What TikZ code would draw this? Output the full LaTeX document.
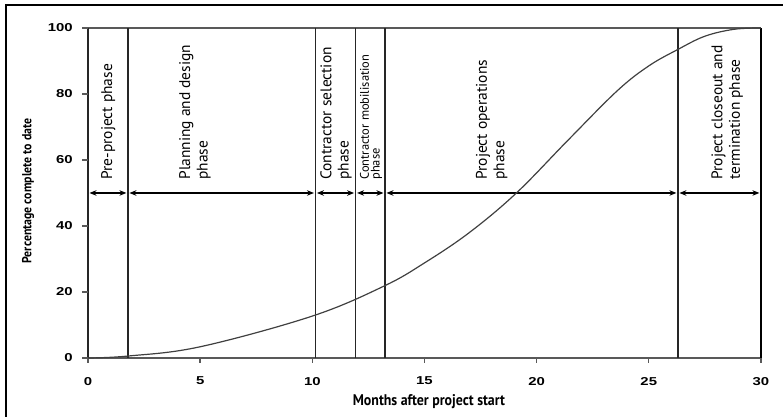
\documentclass[tikz,border=0pt]{standalone}
\usepackage{fontspec}
\setmainfont{PT Sans}
\newfontfamily\tickfont[FakeStretch=1.3]{Liberation Sans}
\newfontfamily\titlefont[FakeStretch=0.9]{PT Sans}
\usetikzlibrary{arrows.meta}

\begin{document}
\begin{tikzpicture}[x=22.43bp,y=3.3bp,>={Stealth[length=7bp,width=5.5bp]},
    phaselabel/.style={rotate=90,anchor=west,align=left,inner sep=0pt,font=\fontsize{15.5}{17.5}\selectfont},
    ticklabel/.style={font=\tickfont\bfseries\fontsize{11.5}{13}\selectfont,inner sep=0pt},
    boxline/.style={line width=1.3bp,black!65},
    phaseline/.style={line width=1.4bp,black!85}]
\useasboundingbox (-3.923,-17.88) rectangle (30.985,108.48);
% frame round the figure
\draw[line width=1.3bp](30.985,106.97)--(-3.656,106.97)--(-3.656,-17.88);
% axes and box
\draw[boxline](0,100)--(30,100);
\draw[boxline](0,0)--(30,0);
\draw[phaseline](0,0)--(0,100);
\foreach \y in {0,20,...,100}{
  \draw[boxline](0,\y)--(-0.27,\y);
  \node[ticklabel,anchor=east] at (-0.67,\y){\y};
}
\foreach \x in {0,5,...,30}{
  \draw[boxline](\x,0)--(\x,-1.5);
  \node[ticklabel] at (\x,-7){\x};
}
\node[font=\titlefont\bfseries\fontsize{15.5}{17}\selectfont] (xtitle) at (15.2,-13.3){Months after project start};
\node[rotate=90,font=\titlefont\bfseries\fontsize{13.2}{15}\selectfont] (ytitle) at (-2.675,50.6){Percentage complete to date};
% phase boundaries
\foreach \b in {1.78,10.14,11.93,13.24,26.3}{
  \draw[phaseline](\b,0)--(\b,100);
}
\draw[line width=1.8bp](30,0)--(30,100);
\coordinate (b0) at (0,50);
\coordinate (b1) at (1.78,50);
\coordinate (b2) at (10.14,50);
\coordinate (b3) at (11.93,50);
\coordinate (b4) at (13.24,50);
\coordinate (b5) at (26.3,50);
\coordinate (b6) at (30,50);
\draw[<->,line width=1.2bp,shorten <=1.5bp,shorten >=1.5bp](b0)--(b1);
\draw[<->,line width=1.2bp,shorten <=1.5bp,shorten >=1.5bp](b1)--(b2);
\draw[<->,line width=1.2bp,shorten <=1.5bp,shorten >=1.5bp](b2)--(b3);
\draw[<->,line width=1.2bp,shorten <=1.5bp,shorten >=1.5bp](b3)--(b4);
\draw[<->,line width=1.2bp,shorten <=1.5bp,shorten >=1.5bp](b4)--(b5);
\draw[<->,line width=1.2bp,shorten <=1.5bp,shorten >=1.5bp](b5)--(b6);
% phase names
\node[phaselabel] (pre) at (0.91,54){Pre-project phase};
\node[phaselabel] (plan) at (4.77,54){Planning and design\\phase};
\node[phaselabel] (sel) at (11.06,54){Contractor selection\\phase};
\node[phaselabel,font=\fontsize{12.5}{11}\selectfont] (mob) at (12.62,54){Contractor mobilisation\\phase};
\node[phaselabel] (ops) at (18.0,54){Project operations\\phase};
\node[phaselabel] (close) at (28.5,54){Project closeout and\\termination phase};
% S-curve
\draw[line width=1.2bp,black!75]plot[smooth,tension=0.6]coordinates{(0,0)(1.8,0.6)(5,3.4)(10,12.7)(13.2,21.8)(15,28.8)(17,38)(19.1,50)(21.4,66)(23.6,81)(25,88.5)(26.3,93.5)(27.5,97.5)(28.8,99.6)(30,100)};
\end{tikzpicture}
\end{document}
